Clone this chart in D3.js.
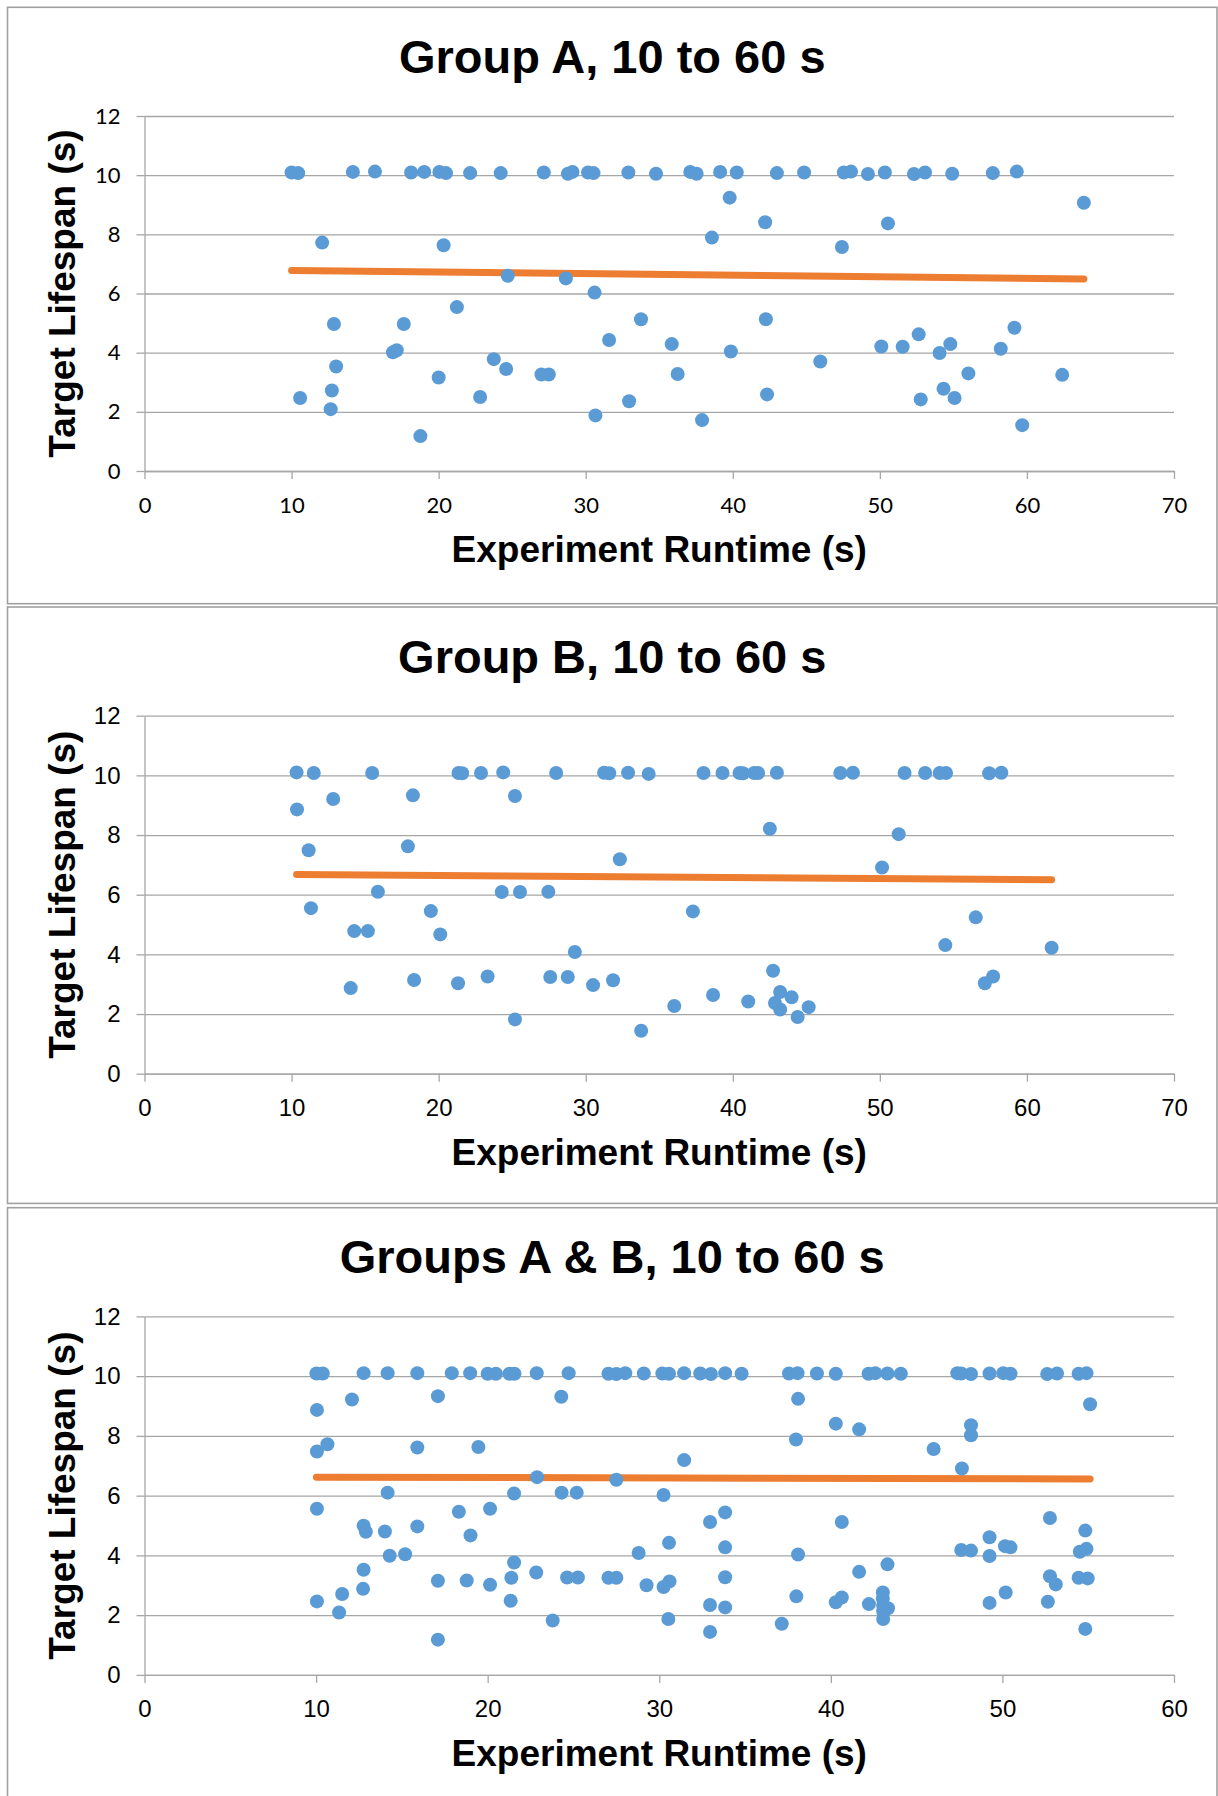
<!DOCTYPE html>
<html>
<head>
<meta charset="utf-8">
<script src="https://cdnjs.cloudflare.com/ajax/libs/d3/7.8.5/d3.min.js"></script>
<style>
  body { margin: 0; background: #fff; }
</style>
</head>
<body>
<div id="chart"></div>
<script>
// ---------------------------------------------------------------------------
// Data
// ---------------------------------------------------------------------------
var titles = ["Group A, 10 to 60 s", "Group B, 10 to 60 s", "Groups A & B, 10 to 60 s"];
var xTitle = "Experiment Runtime (s)";
var yTitle = "Target Lifespan (s)";

var yTicks = [0, 2, 4, 6, 8, 10, 12];
var xTicks70 = [0, 10, 20, 30, 40, 50, 60, 70];
var xTicks60 = [0, 10, 20, 30, 40, 50, 60];

var groupA = [
  [10.0, 10.09], [10.45, 10.07], [14.17, 10.11], [15.67, 10.12], [18.13, 10.09], [19.02, 10.11],
  [20.05, 10.11], [20.5, 10.07], [22.14, 10.07], [24.22, 10.07], [27.15, 10.09], [28.79, 10.05],
  [29.1, 10.11], [30.16, 10.09], [30.53, 10.07], [32.9, 10.09], [34.78, 10.05], [37.11, 10.11],
  [37.54, 10.05], [39.14, 10.11], [40.27, 10.09], [43.0, 10.07], [44.85, 10.09], [47.55, 10.09],
  [48.04, 10.12], [49.19, 10.04], [50.34, 10.09], [52.32, 10.04], [53.07, 10.09], [54.92, 10.05],
  [57.68, 10.07], [59.31, 10.12],
  [12.08, 7.72], [20.34, 7.63], [24.7, 6.6], [28.65, 6.51], [30.6, 6.03], [21.24, 5.54],
  [12.88, 4.97], [17.63, 4.97], [16.89, 4.01], [17.15, 4.08], [31.59, 4.43], [23.75, 3.78],
  [13.03, 3.53], [24.59, 3.45], [20.0, 3.16], [26.99, 3.26], [27.49, 3.26], [10.58, 2.47],
  [12.74, 2.72], [12.66, 2.09], [22.82, 2.5], [18.76, 1.18], [30.66, 1.88],
  [39.79, 9.24], [63.87, 9.07], [42.2, 8.41], [50.55, 8.37], [38.58, 7.89], [47.42, 7.57],
  [33.76, 5.13], [42.25, 5.13], [59.15, 4.84], [52.64, 4.62], [35.85, 4.29], [50.1, 4.21],
  [51.55, 4.2], [54.79, 4.29], [54.06, 3.99], [58.22, 4.13], [39.87, 4.04], [45.95, 3.7],
  [36.25, 3.28], [56.02, 3.3], [62.4, 3.25], [32.95, 2.36], [42.33, 2.59], [54.33, 2.78],
  [52.78, 2.42], [55.08, 2.47], [37.91, 1.72], [59.68, 1.55]
];

var groupB = [
  [10.34, 10.1], [11.51, 10.08], [15.48, 10.08], [21.35, 10.08], [21.6, 10.07], [22.88, 10.08],
  [24.39, 10.1], [27.99, 10.08], [31.25, 10.09], [31.6, 10.07], [32.88, 10.09], [34.28, 10.05],
  [38.01, 10.08], [39.3, 10.08], [40.46, 10.08], [40.7, 10.07], [41.45, 10.08], [41.72, 10.08],
  [43.0, 10.09], [47.31, 10.08], [48.17, 10.09], [51.68, 10.08], [53.08, 10.08], [54.07, 10.08],
  [54.5, 10.08], [57.43, 10.07], [58.26, 10.09],
  [10.37, 8.86], [12.83, 9.21], [18.25, 9.33], [25.19, 9.31], [11.16, 7.49], [17.91, 7.62],
  [15.87, 6.1], [24.29, 6.09], [25.53, 6.09], [27.46, 6.1], [11.32, 5.55], [19.47, 5.45],
  [14.26, 4.78], [15.19, 4.78], [20.11, 4.67], [29.26, 4.08], [14.02, 2.87], [18.33, 3.14],
  [21.32, 3.03], [23.33, 3.26], [27.59, 3.24], [28.78, 3.24], [30.5, 2.97], [31.86, 3.13],
  [25.19, 1.82],
  [32.32, 7.19], [42.52, 8.21], [51.28, 8.03], [50.15, 6.91], [37.29, 5.44], [56.52, 5.24],
  [54.45, 4.31], [61.68, 4.22], [42.74, 3.45], [57.7, 3.26], [57.14, 3.03], [38.66, 2.64],
  [41.05, 2.42], [36.02, 2.27], [43.22, 2.74], [44.0, 2.56], [42.87, 2.37], [43.22, 2.15],
  [45.16, 2.23], [44.41, 1.9], [33.77, 1.44]
];

var groupAB = [
  [10.02, 10.09], [10.39, 10.09], [12.77, 10.1], [14.17, 10.1], [15.9, 10.1], [17.91, 10.1],
  [18.98, 10.1], [20.0, 10.08], [20.48, 10.08], [21.27, 10.08], [21.56, 10.08], [22.86, 10.1],
  [24.72, 10.1], [27.04, 10.08], [27.5, 10.07], [28.02, 10.1], [29.1, 10.09], [30.18, 10.09],
  [30.57, 10.08], [31.45, 10.1], [32.39, 10.09], [33.01, 10.07], [33.84, 10.1], [34.8, 10.08],
  [37.56, 10.09], [38.06, 10.1], [39.19, 10.09], [40.29, 10.08], [42.2, 10.08], [42.59, 10.1],
  [43.3, 10.09], [44.08, 10.08], [47.37, 10.1], [47.6, 10.09], [48.17, 10.07], [49.25, 10.09],
  [50.05, 10.1], [50.47, 10.08], [52.61, 10.07], [53.18, 10.09], [54.44, 10.08], [54.9, 10.1],
  [10.05, 8.87], [12.09, 9.22], [17.1, 9.33], [24.29, 9.31], [10.66, 7.72], [10.05, 7.48],
  [15.9, 7.61], [19.46, 7.63], [22.88, 6.62], [14.17, 6.1], [21.54, 6.07], [24.31, 6.1],
  [25.19, 6.1], [10.05, 5.56], [20.14, 5.56], [18.32, 5.46], [12.77, 4.99], [12.9, 4.79],
  [14.01, 4.8], [15.9, 4.97], [19.0, 4.67], [14.29, 3.99], [15.19, 4.04], [21.54, 3.76],
  [12.77, 3.52], [22.83, 3.43], [21.38, 3.25], [24.63, 3.26], [25.26, 3.26], [17.1, 3.15],
  [18.78, 3.16], [20.14, 3.02], [12.74, 2.88], [11.52, 2.71], [10.05, 2.46], [21.34, 2.48],
  [11.34, 2.09], [23.79, 1.82], [17.1, 1.18], [27.04, 3.25], [27.5, 3.25],
  [27.5, 6.53], [38.09, 9.24], [55.11, 9.06], [40.29, 8.41], [41.65, 8.22], [48.17, 8.36],
  [48.17, 8.02], [37.97, 7.88], [45.99, 7.56], [31.45, 7.19], [47.64, 6.91], [30.25, 6.02],
  [33.84, 5.44], [32.96, 5.12], [40.64, 5.12], [52.77, 5.25], [54.83, 4.83], [49.25, 4.61],
  [30.57, 4.42], [33.84, 4.27], [50.15, 4.31], [50.47, 4.27], [47.6, 4.18], [48.17, 4.16],
  [54.51, 4.12], [54.9, 4.22], [28.8, 4.08], [38.09, 4.03], [49.25, 3.98], [43.3, 3.7],
  [41.65, 3.45], [52.77, 3.3], [53.11, 3.03], [54.44, 3.25], [54.97, 3.23], [33.84, 3.27],
  [29.26, 3.0], [30.25, 2.94], [30.6, 3.13], [43.03, 2.76], [43.03, 2.55], [50.19, 2.76],
  [37.99, 2.63], [40.64, 2.59], [40.29, 2.43], [42.22, 2.37], [43.05, 2.32], [43.33, 2.23],
  [43.05, 2.13], [43.05, 1.87], [32.96, 2.34], [33.84, 2.26], [49.25, 2.41], [52.65, 2.45],
  [30.53, 1.87], [37.14, 1.71], [32.96, 1.44], [54.83, 1.54]
];

// linear trendlines: [start, end]
var trendA = [[10.0, 6.78], [63.87, 6.49]];
var trendB = [[10.34, 6.68], [61.68, 6.5]];
var trendAB = [[10.02, 6.62], [55.11, 6.56]];

var panels = [
  { title: titles[0], xMax: 70, xTicks: xTicks70, points: groupA, trend: trendA },
  { title: titles[1], xMax: 70, xTicks: xTicks70, points: groupB, trend: trendB },
  { title: titles[2], xMax: 60, xTicks: xTicks60, points: groupAB, trend: trendAB }
];

// ---------------------------------------------------------------------------
// Layout
// ---------------------------------------------------------------------------
var W = 1218, H = 1796;
var boxLeft = 7.5, boxRight = 1217, boxH = 596.4;
var panelTop = [7.3, 607, 1207.7];
var plotLeft = 144.5, plotRight = 1174;
var plotOffset = 108.7;
var plotH = [355, 358, 358.5];
var tickFont = ["Lato, 'Open Sans', sans-serif", "'Liberation Sans', Arial, sans-serif", "'Liberation Sans', Arial, sans-serif"];
var tickSize = [22, 24, 24];

var gridColor = "#a6a6a6";
var dotColor = "#5b9bd5";
var trendColor = "#ed7d31";

var svg = d3.select("#chart")
  .append("svg")
  .attr("width", W)
  .attr("height", H)
  .style("display", "block");

svg.append("rect")
  .attr("width", W)
  .attr("height", H)
  .attr("fill", "#fff");

function styleAxis(sel, i) {
  sel.selectAll("line, path")
    .attr("stroke", gridColor)
    .attr("stroke-width", 1.3);
  sel.attr("font-family", tickFont[i])
    .attr("font-size", tickSize[i]);
  sel.selectAll("text").attr("fill", "#000");
}

function drawPanel(p, i) {
  var top = panelTop[i];
  var pTop = top + plotOffset;
  var pBot = pTop + plotH[i];

  var x = d3.scaleLinear().domain([0, p.xMax]).range([plotLeft, plotRight]);
  var y = d3.scaleLinear().domain([0, 12]).range([pBot, pTop]);

  var g = svg.append("g");

  // panel border
  g.append("rect")
    .attr("x", boxLeft)
    .attr("y", top)
    .attr("width", boxRight - boxLeft)
    .attr("height", boxH)
    .attr("fill", "none")
    .attr("stroke", "#a0a0a0")
    .attr("stroke-width", 1.6);

  // horizontal gridlines
  var grid = g.append("g")
    .attr("transform", "translate(" + plotLeft + ",0)")
    .call(d3.axisLeft(y)
      .tickValues(yTicks)
      .tickSize(-(plotRight - plotLeft))
      .tickFormat(""));
  grid.select(".domain").remove();
  styleAxis(grid, i);

  // y axis
  var yAxis = g.append("g")
    .attr("transform", "translate(" + plotLeft + ",0)")
    .call(d3.axisLeft(y)
      .tickValues(yTicks)
      .tickSize(8)
      .tickSizeOuter(0)
      .tickPadding(16));
  styleAxis(yAxis, i);

  // x axis
  var xAxis = g.append("g")
    .attr("transform", "translate(0," + pBot + ")")
    .call(d3.axisBottom(x)
      .tickValues(p.xTicks)
      .tickSize(8)
      .tickSizeOuter(0));
  styleAxis(xAxis, i);
  xAxis.selectAll("text")
    .attr("y", 42)
    .attr("dy", null);

  // trendline
  g.append("path")
    .datum(p.trend)
    .attr("d", d3.line()
      .x(function (d) { return x(d[0]); })
      .y(function (d) { return y(d[1]); }))
    .attr("fill", "none")
    .attr("stroke", trendColor)
    .attr("stroke-width", 7)
    .attr("stroke-linecap", "round");

  // points
  g.append("g")
    .selectAll("circle")
    .data(p.points)
    .join("circle")
    .attr("cx", function (d) { return x(d[0]); })
    .attr("cy", function (d) { return y(d[1]); })
    .attr("r", 7)
    .attr("fill", dotColor);

  // chart title
  g.append("text")
    .attr("x", (boxLeft + boxRight) / 2)
    .attr("y", pTop - 43)
    .attr("text-anchor", "middle")
    .attr("font-family", "'Liberation Sans', Arial, sans-serif")
    .attr("font-weight", "bold")
    .attr("font-size", 47)
    .attr("fill", "#000")
    .text(p.title);

  // axis titles
  g.append("text")
    .attr("x", (plotLeft + plotRight) / 2)
    .attr("y", pBot + 91)
    .attr("text-anchor", "middle")
    .attr("font-family", "'Liberation Sans', Arial, sans-serif")
    .attr("font-weight", "bold")
    .attr("font-size", 37)
    .attr("fill", "#000")
    .text(xTitle);

  g.append("text")
    .attr("transform", "translate(75," + ((pTop + pBot) / 2) + ") rotate(-90)")
    .attr("text-anchor", "middle")
    .attr("font-family", "'Liberation Sans', Arial, sans-serif")
    .attr("font-weight", "bold")
    .attr("font-size", 37)
    .attr("fill", "#000")
    .text(yTitle);
}

panels.forEach(drawPanel);
</script>
</body>
</html>
